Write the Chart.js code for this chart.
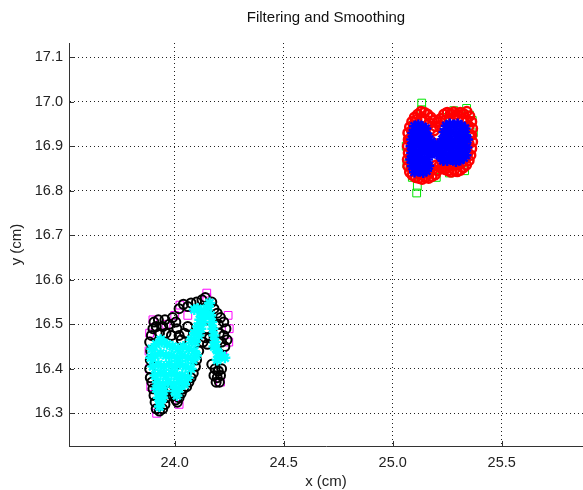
<!DOCTYPE html>
<html>
<head>
<meta charset="utf-8">
<script src="https://cdn.jsdelivr.net/npm/chart.js@4.4.1/dist/chart.umd.min.js"></script>
<style>
  html, body { margin: 0; padding: 0; background: #fff; overflow: hidden; }
  /* a few px wider than the window: Chart.js keeps room for the point radius on the right */
  #wrap { width: 591px; height: 490px; }
</style>
</head>
<body>
<div id="wrap"><canvas id="chart"></canvas></div>
<script>
// object A (right blob): raw = green squares, filtered = red circles, smoothed = blue stars
const rawA = [
  [25.133,16.997],[25.133,16.982],[25.339,16.985],[25.352,16.97],[25.113,16.81],[25.11,16.795],
  [25.095,16.948],[25.065,16.86],[25.062,16.9],[25.37,16.93],[25.365,16.958],[25.33,16.845],
  [25.26,16.84],[25.2,16.83],[25.09,16.83],[25.23,16.965],[25.28,16.98]
];
const filtA = [
  [25.1,16.965],[25.115,16.972],[25.13,16.978],[25.145,16.976],[25.16,16.972],[25.175,16.965],
  [25.19,16.958],[25.205,16.955],[25.22,16.962],[25.235,16.972],[25.25,16.976],[25.265,16.973],
  [25.28,16.977],[25.295,16.972],[25.31,16.976],[25.325,16.973],[25.34,16.978],[25.353,16.968],
  [25.362,16.955],[25.366,16.94],[25.362,16.925],[25.366,16.91],[25.362,16.895],[25.358,16.88],
  [25.35,16.868],[25.338,16.858],[25.324,16.852],[25.31,16.846],[25.296,16.843],[25.282,16.846],
  [25.268,16.842],[25.254,16.845],[25.24,16.848],[25.228,16.852],[25.225,16.865],[25.215,16.858],
  [25.205,16.845],[25.195,16.836],[25.18,16.832],[25.165,16.828],[25.15,16.83],[25.135,16.826],
  [25.12,16.828],[25.105,16.83],[25.09,16.835],[25.078,16.842],[25.07,16.855],[25.068,16.87],
  [25.072,16.885],[25.068,16.9],[25.072,16.915],[25.07,16.93],[25.078,16.943],[25.088,16.955],
  [25.11,16.96],[25.13,16.962],[25.15,16.96],[25.17,16.952],[25.195,16.945],[25.215,16.945],
  [25.24,16.958],[25.26,16.962],[25.28,16.963],[25.3,16.96],[25.32,16.962],[25.34,16.958],
  [25.35,16.945],[25.352,16.925],[25.35,16.905],[25.345,16.885],[25.335,16.872],[25.32,16.865],
  [25.3,16.858],[25.28,16.858],[25.26,16.856],[25.245,16.86],[25.2,16.858],
  [25.185,16.848],[25.17,16.843],[25.155,16.842],[25.14,16.84],[25.12,16.84],[25.1,16.845],
  [25.085,16.855],[25.082,16.875],[25.085,16.895],[25.082,16.915],[25.087,16.935],[25.098,16.948],
  [25.19,16.935],[25.205,16.925]
];
const smoothA = [
  [25.1,16.945],[25.118,16.948],[25.137,16.944],[25.152,16.94],
  [25.245,16.946],[25.262,16.95],[25.28,16.947],[25.298,16.95],[25.316,16.946],[25.332,16.94],
  [25.092,16.93],[25.11,16.932],[25.128,16.928],[25.148,16.93],[25.162,16.922],
  [25.235,16.932],[25.25,16.93],[25.27,16.933],[25.29,16.928],[25.31,16.932],[25.335,16.925],
  [25.088,16.915],[25.106,16.912],[25.127,16.917],[25.146,16.912],[25.165,16.908],[25.178,16.91],
  [25.228,16.915],[25.245,16.912],[25.264,16.916],[25.285,16.912],[25.305,16.915],[25.325,16.91],
  [25.343,16.915],
  [25.084,16.9],[25.1,16.898],[25.12,16.902],[25.14,16.897],[25.16,16.9],[25.18,16.896],
  [25.192,16.9],[25.21,16.905],[25.2,16.893],[25.22,16.895],[25.24,16.9],[25.26,16.897],
  [25.28,16.901],[25.3,16.896],[25.32,16.9],[25.34,16.897],
  [25.087,16.885],[25.106,16.887],[25.126,16.882],[25.146,16.886],[25.166,16.882],[25.186,16.886],
  [25.204,16.882],[25.215,16.88],[25.238,16.884],[25.256,16.88],[25.276,16.885],[25.296,16.881],
  [25.316,16.884],[25.336,16.88],
  [25.083,16.87],[25.1,16.868],[25.12,16.872],[25.14,16.867],[25.16,16.87],[25.225,16.874],
  [25.232,16.868],[25.25,16.868],[25.27,16.87],[25.29,16.866],[25.31,16.869],[25.326,16.874],
  [25.09,16.855],[25.108,16.857],[25.128,16.853],[25.148,16.856],[25.165,16.856],
  [25.1,16.842],[25.12,16.844],[25.14,16.841],[25.155,16.845]
];

// object B (left blob): raw = magenta squares, filtered = black circles, smoothed = cyan stars
const rawB = [
  [24.147,16.57],[24.147,16.56],[23.917,16.3],[23.915,16.31],[23.885,16.48],[23.882,16.44],
  [23.884,16.4],[23.89,16.36],[24.245,16.52],[24.25,16.49],[24.248,16.46],[24.22,16.43],
  [24.024,16.543],[24.02,16.32],[24.21,16.37],[23.96,16.5],[24.06,16.52],[24.0,16.52],[23.9,16.51]
];
const filtB = [
  [23.888,16.38],[23.885,16.4],[23.888,16.42],[23.89,16.44],[23.885,16.46],[23.893,16.475],
  [23.9,16.49],[23.905,16.505],
  [23.915,16.495],[23.93,16.48],[23.945,16.495],[23.96,16.48],[23.975,16.5],[23.99,16.515],
  [24.005,16.505],[24.01,16.49],[23.955,16.51],[23.925,16.51],[23.985,16.475],[24.02,16.475],
  [24.03,16.465],[24.045,16.48],[24.06,16.495],
  [24.02,16.535],[24.04,16.545],[24.06,16.54],[24.075,16.548],[24.1,16.55],[24.125,16.555],
  [24.14,16.56],[24.17,16.55],[24.18,16.535],
  [24.195,16.525],[24.21,16.515],[24.225,16.505],[24.235,16.49],[24.225,16.475],[24.24,16.465],
  [24.23,16.45],[24.215,16.46],[24.205,16.48],[24.2,16.5],
  [24.145,16.49],[24.14,16.47],[24.15,16.455],[24.13,16.46],[24.16,16.47],
  [24.17,16.41],[24.185,16.4],[24.2,16.395],[24.215,16.4],[24.21,16.385],[24.195,16.38],
  [24.18,16.385],[24.19,16.37],[24.205,16.37],
  [23.895,16.37],[23.9,16.355],[23.905,16.34],[23.91,16.325],[23.915,16.31],[23.93,16.305],
  [23.945,16.31],[23.955,16.32],[23.96,16.335],[23.965,16.35],[23.975,16.36],
  [23.985,16.355],[23.99,16.34],[24.005,16.33],[24.02,16.335],[24.03,16.345],[24.04,16.355],
  [24.055,16.36],[24.065,16.37],[24.075,16.38],[24.085,16.39],[24.095,16.405],[24.1,16.42],
  [24.11,16.44],[24.012,16.325]
];
const smoothB = [
  [23.895,16.445],[23.915,16.455],[23.935,16.465],[23.94,16.46],[23.965,16.455],[23.99,16.45],
  [24.015,16.445],[24.04,16.45],[24.065,16.445],[24.09,16.44],
  [23.89,16.425],[23.91,16.43],[23.935,16.435],[23.96,16.43],[23.985,16.43],[24.01,16.425],
  [24.035,16.43],[24.06,16.425],[24.085,16.42],[24.1,16.43],
  [23.9,16.405],[23.925,16.41],[23.95,16.405],[23.975,16.41],[24.0,16.405],[24.025,16.41],
  [24.05,16.405],[24.075,16.4],
  [23.91,16.385],[23.935,16.39],[23.96,16.385],[23.985,16.39],[24.01,16.385],[24.035,16.385],
  [24.06,16.38],
  [23.92,16.37],[23.945,16.365],[23.97,16.37],[23.995,16.365],[24.02,16.37],[24.045,16.365],
  [23.915,16.355],[23.93,16.345],[23.925,16.335],[23.935,16.325],[23.93,16.315],[23.945,16.335],
  [23.95,16.35],[24.0,16.35],[24.01,16.34],[24.02,16.355],
  [24.075,16.465],[24.095,16.46],[24.09,16.48],[24.11,16.475],[24.105,16.495],[24.12,16.49],
  [24.115,16.51],[24.13,16.505],[24.125,16.52],[24.14,16.52],[24.145,16.535],
  [24.09,16.533],[24.105,16.535],[24.12,16.53],[24.155,16.54],[24.16,16.548],
  [24.165,16.52],[24.17,16.505],[24.175,16.49],[24.18,16.475],[24.185,16.46],[24.19,16.445],
  [24.2,16.435],[24.215,16.43],[24.23,16.425],[24.195,16.42],[24.18,16.45]
];

const xRange = [23.515, 25.873];
const yRange = [16.2265, 17.132];

const FONT = "'Liberation Sans', Arial, sans-serif";

function pts(list) {
  return list.map(p => ({ x: p[0], y: p[1] }));
}

function series(list, color, style, radius, width, order) {
  return {
    data: pts(list),
    showLine: false,
    pointStyle: style,
    pointRadius: radius,
    pointBorderWidth: width,
    pointBorderColor: color,
    pointBackgroundColor: 'rgba(0,0,0,0)',
    pointHoverRadius: radius,
    order: order
  };
}

// MATLAB style inward tick marks
const tickMarks = {
  id: 'tickMarks',
  afterDraw(chart) {
    const { ctx, chartArea, scales } = chart;
    ctx.save();
    ctx.strokeStyle = '#333';
    ctx.lineWidth = 1;
    ctx.beginPath();
    scales.y.ticks.forEach(t => {
      const py = Math.round(scales.y.getPixelForValue(t.value)) + 0.5;
      ctx.moveTo(chartArea.left, py);
      ctx.lineTo(chartArea.left + 5, py);
    });
    scales.x.ticks.forEach(t => {
      const px = Math.round(scales.x.getPixelForValue(t.value)) + 0.5;
      ctx.moveTo(px, chartArea.bottom);
      ctx.lineTo(px, chartArea.bottom - 5);
    });
    ctx.stroke();
    ctx.restore();
  }
};

new Chart(document.getElementById('chart'), {
  type: 'scatter',
  data: {
    datasets: [
      series(rawA, '#00e600', 'rect', 5.5, 1, 3),
      series(filtA, '#ff0000', 'circle', 4.5, 2.5, 2),
      series(smoothA, '#0000ff', 'star', 5.5, 2.5, 1),
      series(rawB, '#ff00ff', 'rect', 5.5, 1, 3),
      series(filtB, '#000000', 'circle', 4.5, 2, 2),
      series(smoothB, '#00ffff', 'star', 5.5, 2.5, 1)
    ]
  },
  options: {
    responsive: true,
    maintainAspectRatio: false,
    animation: false,
    devicePixelRatio: 1,
    layout: { padding: 0 },
    plugins: {
      legend: { display: false },
      tooltip: { enabled: false },
      title: {
        display: true,
        text: 'Filtering and Smoothing',
        fullSize: false,
        color: '#111',
        font: { family: FONT, size: 15, weight: 'normal' },
        padding: { top: 9, bottom: 16 }
      }
    },
    scales: {
      x: {
        type: 'linear',
        min: xRange[0],
        max: xRange[1],
        afterFit(s) { s.height = 44; },
        ticks: {
          stepSize: 0.5,
          includeBounds: false,
          color: '#222',
          padding: 8,
          maxRotation: 0,
          font: { family: FONT, size: 14.5 }
        },
        grid: { color: '#222', drawTicks: false, lineWidth: 1 },
        border: { display: true, color: '#333', width: 1, dash: [1, 3] },
        title: {
          display: true,
          text: 'x (cm)',
          color: '#222',
          font: { family: FONT, size: 15, lineHeight: 1.0 },
          padding: { top: 0, bottom: 1 }
        }
      },
      y: {
        type: 'linear',
        min: yRange[0],
        max: yRange[1],
        afterFit(s) { s.width = 69; },
        ticks: {
          stepSize: 0.1,
          includeBounds: false,
          color: '#222',
          padding: 6,
          font: { family: FONT, size: 14.5 }
        },
        grid: { color: '#222', drawTicks: false, lineWidth: 1 },
        border: { display: true, color: '#333', width: 1, dash: [1, 3] },
        title: {
          display: true,
          text: 'y (cm)',
          color: '#222',
          font: { family: FONT, size: 15 },
          padding: { top: 8, bottom: 0 }
        }
      }
    }
  },
  plugins: [tickMarks]
});
</script>
</body>
</html>
